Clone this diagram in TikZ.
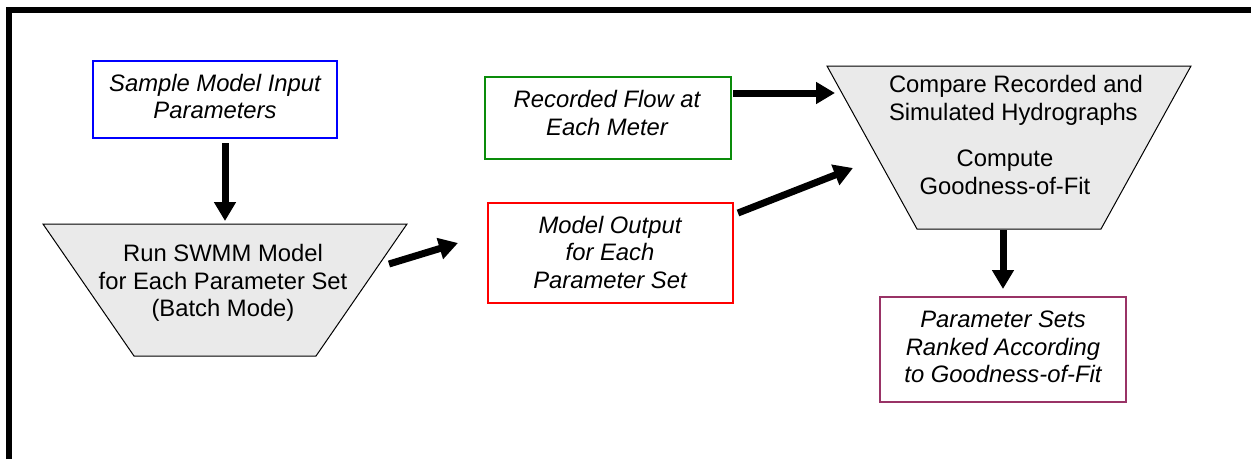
\documentclass[tikz,border=0pt]{standalone}
\usepackage{fontspec}
\setmainfont{Liberation Sans}
\usetikzlibrary{arrows.meta,calc}

\definecolor{boxblue}{RGB}{0,0,255}
\definecolor{boxgreen}{RGB}{10,140,10}
\definecolor{boxred}{RGB}{255,0,0}
\definecolor{boxplum}{RGB}{153,51,102}
\definecolor{stagefill}{RGB}{234,234,234}

\begin{document}
\begin{tikzpicture}[x=1pt,y=-1pt,
  every node/.style={inner sep=0pt, outer sep=0pt},
  txt/.style={font=\fontsize{23.8}{27.5}\selectfont, align=center},
  itxt/.style={txt, font=\fontsize{23.8}{27.5}\selectfont\itshape},
  databox/.style={draw=#1, line width=2pt, rectangle},
  stageline/.style={draw, line width=1pt, fill=stagefill, line join=miter},
  flow/.style={line width=7pt, -{Triangle[length=19pt,width=21pt]}}
]
\useasboundingbox (0,0) rectangle (1251,459);

% outer frame (top and left edges)
\draw[line width=5.5pt, line join=miter] (9.2,459) -- (9.2,9.8) -- (1251,9.8);

% input parameter samples
\node[databox=boxblue, minimum width=244pt, minimum height=77pt] (sample) at (215,99.5) {};
\node[itxt] at (215,96.5) {Sample Model Input\\Parameters};

% batch SWMM run: inverted trapezoid inside the node's box
\node[minimum width=364pt, minimum height=132pt] (run) at (225,290) {};
\path[stageline] (run.north west) -- (run.north east)
  -- ($(run.south east)+(-91,0)$) -- ($(run.south west)+(91,0)$) -- cycle;
\node[txt] at (223,283) {Run SWMM Model\\for Each Parameter Set\\(Batch Mode)};

% recorded flow
\node[databox=boxgreen, minimum width=246pt, minimum height=82pt] (meter) at (608,118) {};
\node[itxt] at (607,113) {Recorded Flow at\\Each Meter};

% model output
\node[databox=boxred, minimum width=245pt, minimum height=100pt] (output) at (610.5,253) {};
\node[itxt] at (610,252) {Model Output\\for Each\\Parameter Set};

% comparison stage
\node[minimum width=364pt, minimum height=163pt] (compare) at (1009,147.5) {};
\path[stageline] (compare.north west) -- (compare.north east)
  -- ($(compare.south east)+(-90,0)$) -- ($(compare.south west)+(90,0)$) -- cycle;
\node[txt, align=left, anchor=west] at (889,100.5) {Compare Recorded and\\Simulated Hydrographs};
\node[txt] at (1005,172.5) {Compute\\Goodness-of-Fit};

% ranked result
\node[databox=boxplum, minimum width=246pt, minimum height=105pt] (ranked) at (1003,349.5) {};
\node[itxt] at (1003,347) {Parameter Sets\\Ranked According\\to Goodness-of-Fit};

% connector end points
\coordinate (runout) at ($(run.north east)+(-18,40)$);
\coordinate (outin) at ($(output.west)+(-30,-10)$);
\coordinate (meterout) at ($(meter.north east)+(2,16)$);
\coordinate (cmpin1) at ($(compare.north west)+(8,27)$);
\coordinate (outout) at ($(output.north east)+(5,10)$);
\coordinate (cmpin2) at ($(compare.north west)+(26,102)$);

% connectors
\draw[flow, shorten <=5pt, shorten >=3pt] (run.north |- sample.south) -- (run.north);
\draw[flow] (runout) -- (outin);
\draw[flow] (meterout) -- (cmpin1);
\draw[flow] (outout) -- (cmpin2);
\draw[flow, shorten <=1pt, shorten >=8pt] (ranked.north |- compare.south) -- (ranked.north);
\end{tikzpicture}
\end{document}
